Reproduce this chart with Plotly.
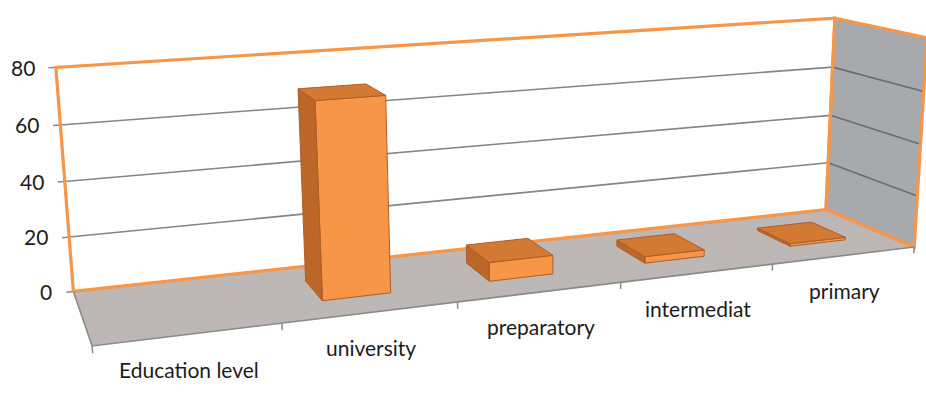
import numpy as np
import plotly.graph_objects as go

# ---- data -------------------------------------------------------------
categories = ["Education level", "university", "preparatory", "intermediat", "primary"]
values = [None, 70, 7, 2.5, 1]
value_ticks = [0, 20, 40, 60, 80]

# ---- 3-D box geometry (world units: one category slot = 1) -------------
Z_MAX = 80
DEPTH = 1.0                 # floor depth, back wall at y = DEPTH
Z_UNIT = 1.305 / Z_MAX      # world height per value unit
BAR_W = 0.4                 # bar width inside its slot
BAR_D = 0.4                 # bar depth
TICK = 0.04                 # axis tick length

# ---- perspective camera -----------------------------------------------
W, H = 926, 396
FOCAL = 1530.0              # focal length in screen pixels
YAW = np.radians(19.1)
PITCH = np.radians(14.1)
ROLL = np.radians(-0.75)
ORIGIN_CAM = np.array([-1.918, 0.765, 7.912])   # world origin in camera space

sy, cy = np.sin(YAW), np.cos(YAW)
sp, cp = np.sin(PITCH), np.cos(PITCH)
R0 = np.array([
    [cy, -sy, 0.0],              # camera right
    [-sp * sy, -sp * cy, -cp],   # camera down
    [sy * cp, cy * cp, -sp],     # camera forward
])
cr, sr = np.cos(ROLL), np.sin(ROLL)
R = np.array([[cr, -sr, 0], [sr, cr, 0], [0, 0, 1]]) @ R0
CAM_POS = -R.T @ ORIGIN_CAM      # camera position in (scaled) world space

# ---- styling ----------------------------------------------------------
FONT = dict(family="Lato, Open Sans, sans-serif", size=21, color="#1C1C1C")
ORANGE = "#F79646"
FLOOR = "#BDB7B5"
SIDE_WALL = "#A7A9AC"
GRID = "#858585"
GRID_SIDE = "#6A6C70"
AXIS = "#8A8A8A"
BAR_FRONT = "#F79646"
BAR_TOP = "#D27A34"
BAR_SIDE = "#BC6628"
BAR_EDGE = "#AE5E28"

N = len(categories)


def world(x, y, v):
    return np.array([x, y, v * Z_UNIT])


def project(pts):
    cam = np.array([ORIGIN_CAM + R @ world(*p) for p in pts])
    return cam[:, 0] / cam[:, 2], cam[:, 1] / cam[:, 2]


fig = go.Figure()


def polygon(pts, fill, line_color=None, line_width=0.0):
    u, v = project(pts)
    fig.add_trace(go.Scatter(
        x=np.append(u, u[0]), y=np.append(v, v[0]), mode="lines",
        fill="toself", fillcolor=fill,
        line=dict(color=line_color or fill, width=line_width),
        hoverinfo="skip", showlegend=False))


def polyline(pts, color, width, closed=False):
    u, v = project(pts)
    if closed:
        u, v = np.append(u, u[0]), np.append(v, v[0])
    fig.add_trace(go.Scatter(
        x=u, y=v, mode="lines", line=dict(color=color, width=width),
        hoverinfo="skip", showlegend=False))


# floor, back wall, side wall
floor = [(0, 0, 0), (N, 0, 0), (N, DEPTH, 0), (0, DEPTH, 0)]
back = [(0, DEPTH, 0), (N, DEPTH, 0), (N, DEPTH, Z_MAX), (0, DEPTH, Z_MAX)]
side = [(N, DEPTH, 0), (N, 0, 0), (N, 0, Z_MAX), (N, DEPTH, Z_MAX)]
polygon(floor, FLOOR)
polygon(back, "white")
polygon(side, SIDE_WALL)

# gridlines on both walls
for t in value_ticks[1:-1]:
    polyline([(0, DEPTH, t), (N, DEPTH, t)], GRID, 1.6)
    polyline([(N, DEPTH, t), (N, 0, t)], GRID_SIDE, 1.6)

# value-axis ticks
for t in value_ticks:
    polyline([(-TICK, DEPTH, t), (0, DEPTH, t)], AXIS, 1.5)

# wall outlines
polyline(back, ORANGE, 3.2, closed=True)
polyline(side, ORANGE, 3.2, closed=True)

# category axis along the floor's front and left edges
polyline([(0, DEPTH, 0), (0, 0, 0), (N, 0, 0)], AXIS, 1.6)
for i in range(N + 1):
    polyline([(i, 0, 0), (i, 0, -TICK / Z_UNIT)], AXIS, 1.5)


# bars: visible faces of each box, far bars first
def bar_faces(x0, x1, y0, y1, top):
    return [
        ((0, -1, 0), [(x0, y0, 0), (x1, y0, 0), (x1, y0, top), (x0, y0, top)], BAR_FRONT),
        ((0, 1, 0), [(x0, y1, 0), (x1, y1, 0), (x1, y1, top), (x0, y1, top)], BAR_FRONT),
        ((-1, 0, 0), [(x0, y0, 0), (x0, y1, 0), (x0, y1, top), (x0, y0, top)], BAR_SIDE),
        ((1, 0, 0), [(x1, y0, 0), (x1, y1, 0), (x1, y1, top), (x1, y0, top)], BAR_SIDE),
        ((0, 0, 1), [(x0, y0, top), (x1, y0, top), (x1, y1, top), (x0, y1, top)], BAR_TOP),
    ]


bars = []
for i, val in enumerate(values):
    if val is None:
        continue
    cx = i + 0.5
    centre = ORIGIN_CAM + R @ world(cx, DEPTH / 2, val / 2)
    bars.append((centre[2], cx, val))

for _, cx, val in sorted(bars, reverse=True):
    x0, x1 = cx - BAR_W / 2, cx + BAR_W / 2
    y0, y1 = DEPTH / 2 - BAR_D / 2, DEPTH / 2 + BAR_D / 2
    for normal, pts, colour in bar_faces(x0, x1, y0, y1, val):
        centre = np.mean([world(*p) for p in pts], axis=0)
        if np.dot(normal, CAM_POS - centre) > 0:
            polygon(pts, colour, BAR_EDGE, 1)

# value labels
for t in value_ticks:
    u, v = project([(0, DEPTH, t)])
    fig.add_annotation(x=u[0], y=v[0], text=str(t), showarrow=False,
                       xanchor="right", yanchor="middle", xshift=-19, font=FONT)

# category labels
for i, name in enumerate(categories):
    u, v = project([(i + 0.5, 0, 0)])
    fig.add_annotation(x=u[0], y=v[0], text=name, showarrow=False,
                       xanchor="center", yanchor="middle", yshift=-35, font=FONT)

half_w, half_h = W / 2 / FOCAL, H / 2 / FOCAL
fig.update_layout(
    width=W, height=H, margin=dict(l=0, r=0, t=0, b=0),
    paper_bgcolor="white", plot_bgcolor="white", showlegend=False,
    xaxis=dict(range=[-half_w, half_w], visible=False, fixedrange=True),
    yaxis=dict(range=[half_h, -half_h], visible=False, fixedrange=True),
)

fig.write_html("out.html")
